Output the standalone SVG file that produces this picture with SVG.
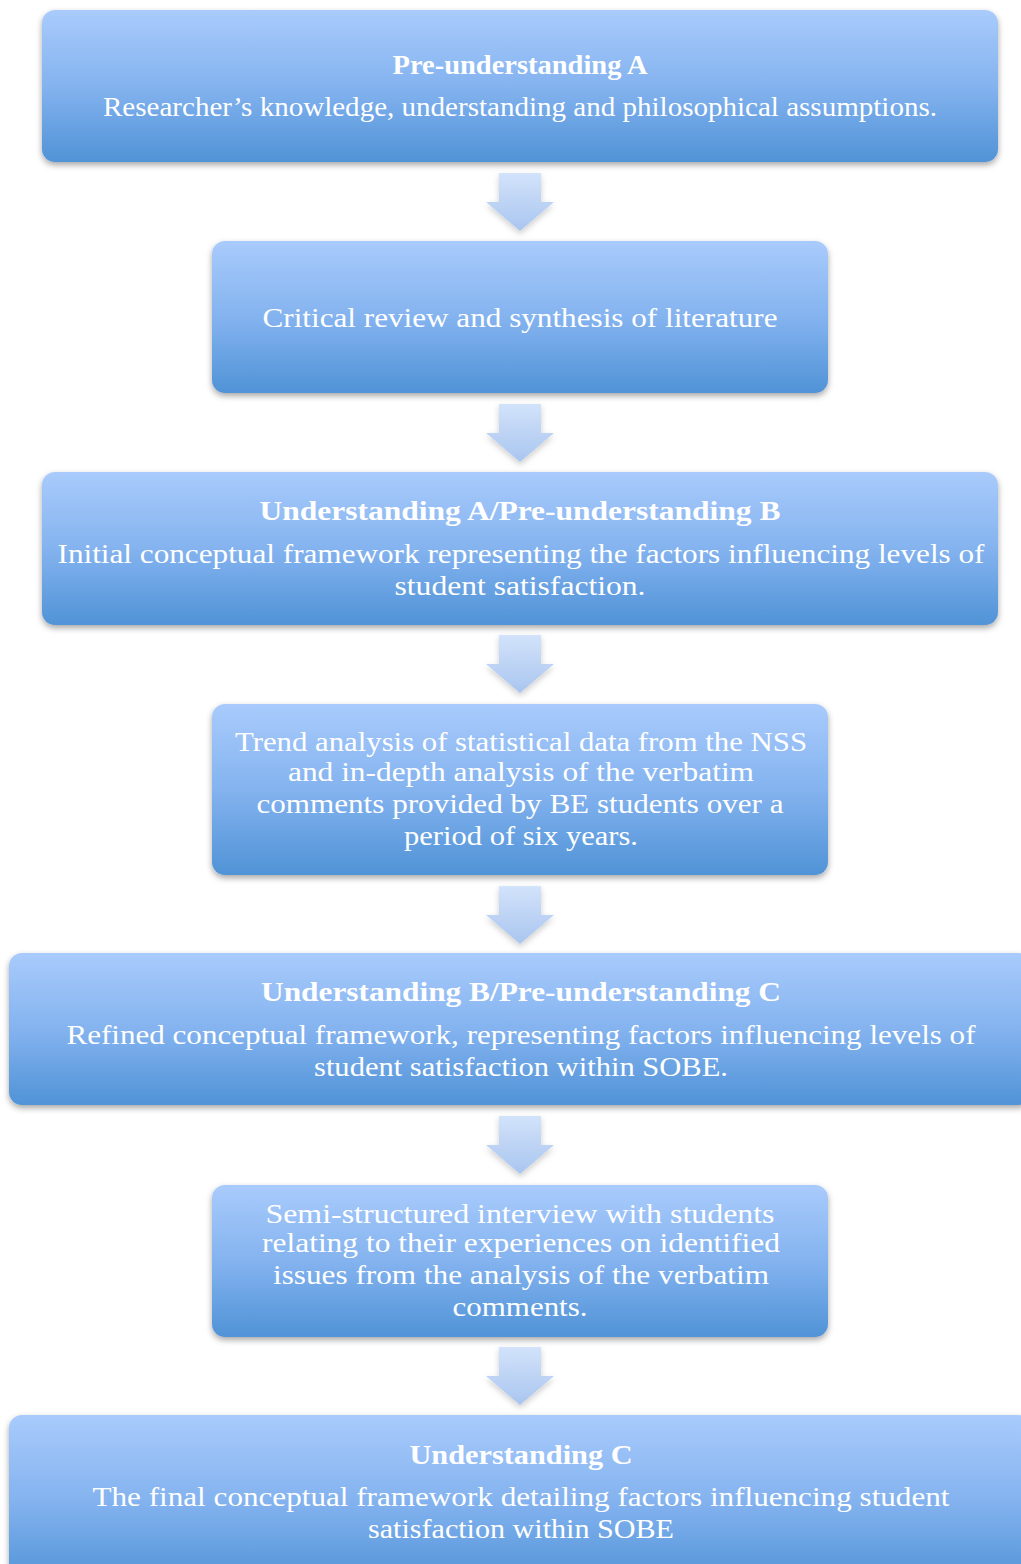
<svg xmlns="http://www.w3.org/2000/svg" width="1021" height="1564" viewBox="0 0 1021 1564">
  <defs>
    <linearGradient id="boxFill" x1="0" y1="0" x2="0" y2="1">
      <stop offset="0" stop-color="#a9cbfc"/>
      <stop offset="0.5" stop-color="#84b3ef"/>
      <stop offset="1" stop-color="#5093d7"/>
    </linearGradient>
    <linearGradient id="arrowFill" x1="0" y1="0" x2="0" y2="1">
      <stop offset="0" stop-color="#d2e3fb"/>
      <stop offset="1" stop-color="#a9c5ef"/>
    </linearGradient>
    <filter id="shadow" x="-5%" y="-10%" width="110%" height="130%">
      <feDropShadow dx="0" dy="3" stdDeviation="3" flood-color="#000" flood-opacity="0.35"/>
    </filter>
    <filter id="arrowShadow" x="-30%" y="-30%" width="160%" height="170%">
      <feDropShadow dx="0" dy="3" stdDeviation="3" flood-color="#000" flood-opacity="0.2"/>
    </filter>
    <path id="downArrow" d="M499,0 H541 V29 H554 L520,58 L486,29 H499 Z"/>
  </defs>
  <style>
    .box { fill: url(#boxFill); filter: url(#shadow); }
    .arrow { fill: url(#arrowFill); filter: url(#arrowShadow); }
    text { font-family: "Liberation Serif", "DejaVu Serif", serif; font-size: 28px; fill: #ffffff; text-anchor: middle; }
    .title { font-weight: bold; font-size: 27px; }
  </style>
  <rect width="1021" height="1564" fill="#ffffff"/>

  <!-- connectors: block arrows between stages -->
  <g id="connectors">
    <use href="#downArrow" class="arrow" y="173"/>
    <use href="#downArrow" class="arrow" y="404"/>
    <use href="#downArrow" class="arrow" y="635"/>
    <use href="#downArrow" class="arrow" y="886"/>
    <use href="#downArrow" class="arrow" y="1116"/>
    <use href="#downArrow" class="arrow" y="1347"/>
  </g>

  <g id="pre-understanding-a">
    <rect class="box" x="42" y="10" width="956" height="152" rx="13"/>
    <text class="title" x="520" y="74" textLength="255" lengthAdjust="spacingAndGlyphs">Pre-understanding A</text>
    <text x="520" y="116" textLength="834" lengthAdjust="spacingAndGlyphs">Researcher’s knowledge, understanding and philosophical assumptions.</text>
  </g>

  <g id="literature-review">
    <rect class="box" x="212" y="241" width="616" height="152" rx="13"/>
    <text x="520" y="327" textLength="515" lengthAdjust="spacingAndGlyphs">Critical review and synthesis of literature</text>
  </g>

  <g id="understanding-a">
    <rect class="box" x="42" y="472" width="956" height="153" rx="13"/>
    <text class="title" x="520" y="520" textLength="521" lengthAdjust="spacingAndGlyphs">Understanding A/Pre-understanding B</text>
    <text x="521" y="563" textLength="927" lengthAdjust="spacingAndGlyphs">Initial conceptual framework representing the factors influencing levels of</text>
    <text x="520" y="595" textLength="251" lengthAdjust="spacingAndGlyphs">student satisfaction.</text>
  </g>

  <g id="trend-analysis">
    <rect class="box" x="212" y="704" width="616" height="171" rx="13"/>
    <text x="521" y="751" textLength="572" lengthAdjust="spacingAndGlyphs">Trend analysis of statistical data from the NSS</text>
    <text x="521" y="781" textLength="466" lengthAdjust="spacingAndGlyphs">and in-depth analysis of the verbatim</text>
    <text x="520" y="813" textLength="527" lengthAdjust="spacingAndGlyphs">comments provided by BE students over a</text>
    <text x="521" y="845" textLength="234" lengthAdjust="spacingAndGlyphs">period of six years.</text>
  </g>

  <g id="understanding-b">
    <rect class="box" x="9" y="953" width="1022" height="152" rx="13"/>
    <text class="title" x="521" y="1001" textLength="520" lengthAdjust="spacingAndGlyphs">Understanding B/Pre-understanding C</text>
    <text x="521" y="1044" textLength="909" lengthAdjust="spacingAndGlyphs">Refined conceptual framework, representing factors influencing levels of</text>
    <text x="521" y="1076" textLength="414" lengthAdjust="spacingAndGlyphs">student satisfaction within SOBE.</text>
  </g>

  <g id="interviews">
    <rect class="box" x="212" y="1185" width="616" height="152" rx="13"/>
    <text x="520" y="1223" textLength="509" lengthAdjust="spacingAndGlyphs">Semi-structured interview with students</text>
    <text x="521" y="1252" textLength="518" lengthAdjust="spacingAndGlyphs">relating to their experiences on identified</text>
    <text x="521" y="1284" textLength="496" lengthAdjust="spacingAndGlyphs">issues from the analysis of the verbatim</text>
    <text x="520" y="1316" textLength="135" lengthAdjust="spacingAndGlyphs">comments.</text>
  </g>

  <g id="understanding-c">
    <rect class="box" x="9" y="1415" width="1022" height="170" rx="13"/>
    <text class="title" x="521" y="1464" textLength="223" lengthAdjust="spacingAndGlyphs">Understanding C</text>
    <text x="521" y="1506" textLength="857" lengthAdjust="spacingAndGlyphs">The final conceptual framework detailing factors influencing student</text>
    <text x="521" y="1538" textLength="306" lengthAdjust="spacingAndGlyphs">satisfaction within SOBE</text>
  </g>
</svg>
